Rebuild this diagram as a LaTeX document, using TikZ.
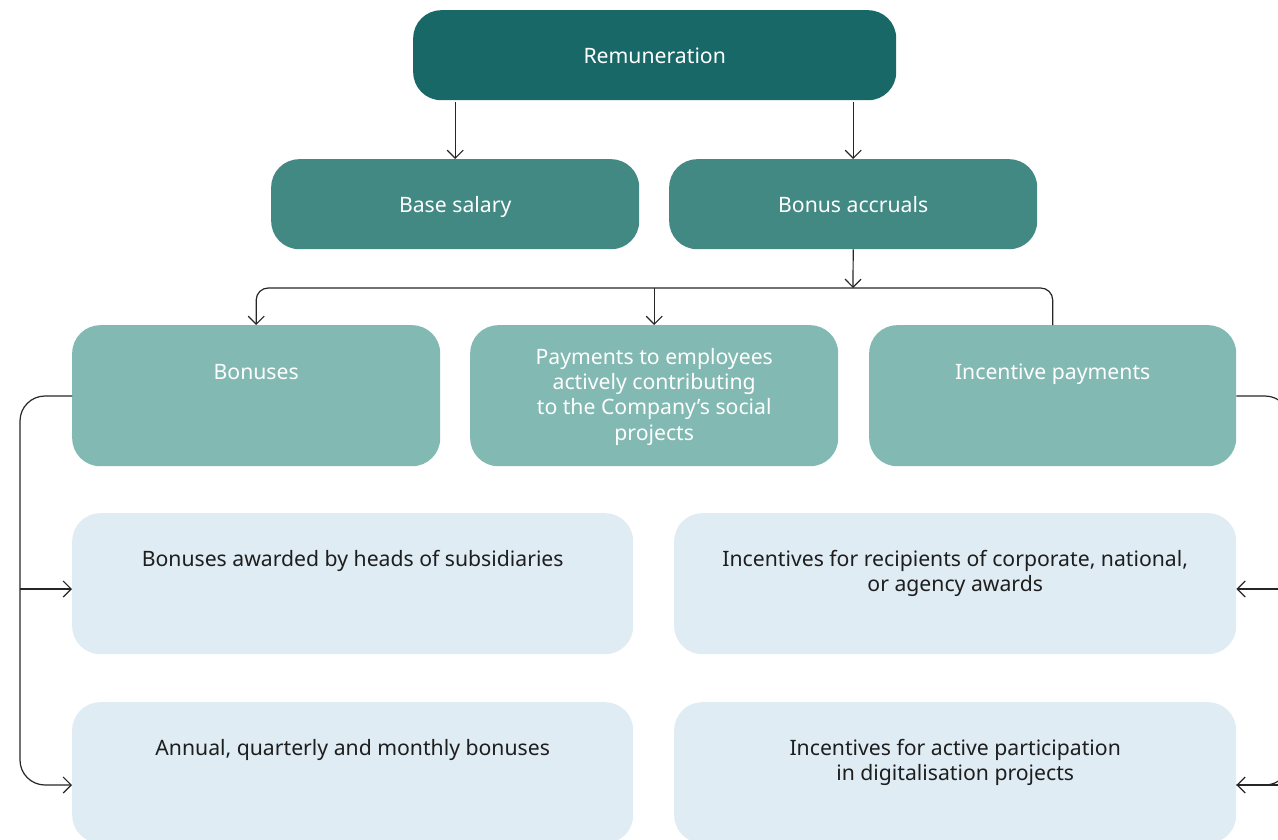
\documentclass[tikz,border=0pt]{standalone}
\usepackage{fontspec}
\setmainfont{Noto Sans}
\usetikzlibrary{arrows.meta}
\definecolor{cdark}{HTML}{196868}
\definecolor{cmid}{HTML}{428883}
\definecolor{clight}{HTML}{82B9B2}
\definecolor{cpale}{HTML}{E0ECF4}
\definecolor{ctext}{HTML}{1E1E1E}
\tikzset{
  box/.style={rounded corners=28pt, draw=none, inner sep=0pt, anchor=north west},
  darkbox/.style={box, fill=cdark},
  midbox/.style={box, fill=cmid},
  lightbox/.style={box, fill=clight},
  palebox/.style={box, fill=cpale},
  txtm/.style={font=\fontsize{21.2}{25.3}\selectfont, align=center, inner sep=0pt},
  txt/.style={txtm, text height=15.5pt, text depth=4.5pt},
  wtext/.style={txt, text=white},
  wtextm/.style={txtm, text=white},
  dtext/.style={txt, text=ctext},
  dtextm/.style={txtm, text=ctext},
  arr/.style={draw=black!85, line width=1.2pt, -{Straight Barb[length=8pt,width=16pt,line width=1.2pt]}},
  conn/.style={draw=black!85, line width=1.2pt},
}
\begin{document}
\begin{tikzpicture}[x=1pt,y=-1pt]
\useasboundingbox (0,0) rectangle (1278,839);
\clip (0,0) rectangle (1278,839);
% boxes
\node[darkbox, minimum width=483pt, minimum height=90pt] (rem) at (413,10) {};
\node[midbox, minimum width=368pt, minimum height=90pt] (base) at (271,159) {};
\node[midbox, minimum width=368pt, minimum height=90pt] (bacc) at (669,159) {};
\node[lightbox, minimum width=368pt, minimum height=141pt] (bon) at (72,325) {};
\node[lightbox, minimum width=368pt, minimum height=141pt] (pay) at (470,325) {};
\node[lightbox, minimum width=367pt, minimum height=141pt] (inc) at (869,325) {};
\node[palebox, minimum width=561pt, minimum height=141pt] (l1) at (72,513) {};
\node[palebox, minimum width=562pt, minimum height=141pt] (r1) at (674,513) {};
\node[palebox, minimum width=561pt, minimum height=141pt] (l2) at (72,702) {};
\node[palebox, minimum width=562pt, minimum height=141pt] (r2) at (674,702) {};
% texts
\node[wtext] (remT) at ([yshift=-3pt]rem.center) {Remuneration};
\node[wtext] (baseT) at ([yshift=-3pt]base.center) {Base salary};
\node[wtext] (baccT) at ([yshift=-3pt]bacc.center) {Bonus accruals};
\node[wtext] (bonT) at ([yshift=-49pt]bon.north) {Bonuses};
\node[wtextm] (payT) at ([yshift=-1pt]pay.center) {Payments to employees\\actively contributing\\to the Company’s social\\projects};
\node[wtext] (incT) at ([yshift=-49pt]inc.north) {Incentive payments};
\node[dtext, anchor=north] (l1T) at ([yshift=-38pt]l1.north) {Bonuses awarded by heads of subsidiaries};
\node[dtextm, anchor=north] (r1T) at ([yshift=-37pt]r1.north) {Incentives for recipients of corporate, national,\\or agency awards};
\node[dtext, anchor=north] (l2T) at ([yshift=-38pt]l2.north) {Annual, quarterly and monthly bonuses};
\node[dtextm, anchor=north] (r2T) at ([yshift=-37pt]r2.north) {Incentives for active participation\\in digitalisation projects};
% coordinates
\coordinate (junc) at (853,288);
\coordinate (lx) at (20,396);
\coordinate (ly1) at (0,589);
\coordinate (ly2) at (0,785);
\coordinate (rx) at (1290,396);
% connectors
\draw[arr] ([yshift=-2pt]rem.south -| base.north) -- (base.north);
\draw[arr] ([yshift=-2pt]rem.south -| bacc.north) -- (bacc.north);
\draw[arr] (bacc.south) -- (junc);
\draw[arr, rounded corners=12pt] (inc.north) |- (bon.north |- junc) -- (bon.north);
\draw[arr] (pay.north |- junc) -- (pay.north);
\draw[arr, rounded corners=25pt] (bon.west |- lx) -- (lx) -- (lx |- ly2) -- (l2.west |- ly2);
\draw[arr] (lx |- ly1) -- (l1.west |- ly1);
\draw[conn, rounded corners=25pt] (inc.east |- rx) -- (rx) -- (rx |- ly2) -- (r2.east |- ly2);
\draw[arr] (rx |- ly2) -- (r2.east |- ly2);
\draw[arr] (rx |- ly1) -- (r1.east |- ly1);
\end{tikzpicture}
\end{document}
